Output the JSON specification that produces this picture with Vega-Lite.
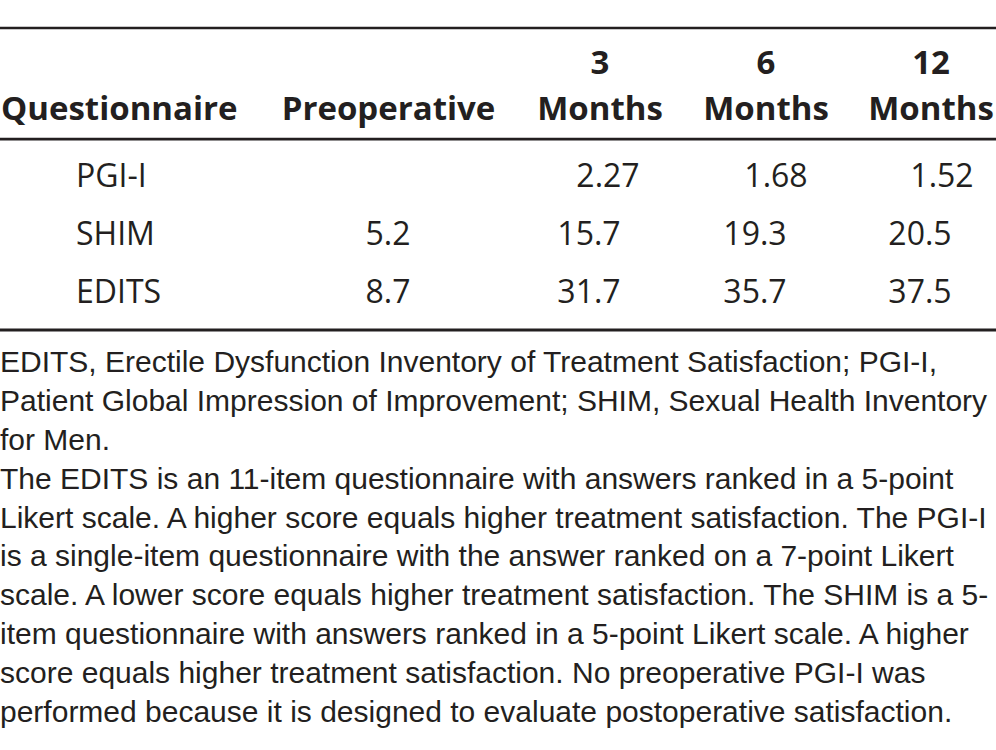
{
  "$schema": "https://vega.github.io/schema/vega-lite/v6.json",
  "width": 996,
  "height": 750,
  "padding": 0,
  "autosize": {"type": "none"},
  "background": "white",
  "config": {"view": {"stroke": null}, "text": {"color": "#231f20"}},
  "datasets": {
    "rules": [
      {"rule": "top", "idx": 0},
      {"rule": "header", "idx": 1},
      {"rule": "bottom", "idx": 2}
    ],
    "header": [
      {"month": 0, "line": 2, "text": "Preoperative"},
      {"month": 3, "line": 1, "text": "3"},
      {"month": 3, "line": 2, "text": "Months"},
      {"month": 6, "line": 1, "text": "6"},
      {"month": 6, "line": 2, "text": "Months"},
      {"month": 12, "line": 1, "text": "12"},
      {"month": 12, "line": 2, "text": "Months"}
    ],
    "firstHeader": [{"column": "Questionnaire", "line": 2, "text": "Questionnaire"}],
    "names": [
      {"column": "Questionnaire", "questionnaire": "PGI-I"},
      {"column": "Questionnaire", "questionnaire": "SHIM"},
      {"column": "Questionnaire", "questionnaire": "EDITS"}
    ],
    "table": [
      {"questionnaire": "PGI-I", "month": 3, "value": 2.27},
      {"questionnaire": "PGI-I", "month": 6, "value": 1.68},
      {"questionnaire": "PGI-I", "month": 12, "value": 1.52},
      {"questionnaire": "SHIM", "month": 0, "value": 5.2},
      {"questionnaire": "SHIM", "month": 3, "value": 15.7},
      {"questionnaire": "SHIM", "month": 6, "value": 19.3},
      {"questionnaire": "SHIM", "month": 12, "value": 20.5},
      {"questionnaire": "EDITS", "month": 0, "value": 8.7},
      {"questionnaire": "EDITS", "month": 3, "value": 31.7},
      {"questionnaire": "EDITS", "month": 6, "value": 35.7},
      {"questionnaire": "EDITS", "month": 12, "value": 37.5}
    ],
    "notes": [
      {"column": "note", "line": 0, "text": "EDITS, Erectile Dysfunction Inventory of Treatment Satisfaction; PGI-I,"},
      {"column": "note", "line": 1, "text": "Patient Global Impression of Improvement; SHIM, Sexual Health Inventory"},
      {"column": "note", "line": 2, "text": "for Men."},
      {"column": "note", "line": 3, "text": "The EDITS is an 11-item questionnaire with answers ranked in a 5-point"},
      {"column": "note", "line": 4, "text": "Likert scale. A higher score equals higher treatment satisfaction. The PGI-I"},
      {"column": "note", "line": 5, "text": "is a single-item questionnaire with the answer ranked on a 7-point Likert"},
      {"column": "note", "line": 6, "text": "scale. A lower score equals higher treatment satisfaction. The SHIM is a 5-"},
      {"column": "note", "line": 7, "text": "item questionnaire with answers ranked in a 5-point Likert scale. A higher"},
      {"column": "note", "line": 8, "text": "score equals higher treatment satisfaction. No preoperative PGI-I was"},
      {"column": "note", "line": 9, "text": "performed because it is designed to evaluate postoperative satisfaction."}
    ]
  },
  "layer": [
    {
      "data": {"name": "rules"},
      "mark": {"type": "rule", "color": "#231f20"},
      "encoding": {
        "y": {"field": "idx", "type": "quantitative", "axis": null,
              "scale": {"domain": [0, 1, 2], "range": [28, 139, 330], "nice": false, "zero": false}},
        "strokeWidth": {"field": "rule", "type": "nominal", "legend": null,
              "scale": {"domain": ["top", "header", "bottom"], "range": [2.5, 3, 4]}}
      }
    },
    {
      "data": {"name": "firstHeader"},
      "mark": {"type": "text", "font": "Open Sans", "fontWeight": "bold", "fontSize": 33, "align": "left", "baseline": "alphabetic"},
      "encoding": {
        "x": {"field": "column", "type": "nominal", "axis": null,
              "scale": {"type": "point", "domain": ["Questionnaire"], "range": [1, 1]}},
        "y": {"field": "line", "type": "quantitative", "axis": null,
              "scale": {"domain": [1, 2], "range": [74, 120], "nice": false, "zero": false}},
        "text": {"field": "text"}
      }
    },
    {
      "data": {"name": "header"},
      "mark": {"type": "text", "font": "Open Sans", "fontWeight": "bold", "fontSize": 33, "align": "center", "baseline": "alphabetic"},
      "encoding": {
        "x": {"field": "month", "type": "quantitative", "axis": null,
              "scale": {"domain": [0, 3, 6, 12], "range": [388.5, 600, 766, 931], "nice": false, "zero": false}},
        "y": {"field": "line", "type": "quantitative", "axis": null,
              "scale": {"domain": [1, 2], "range": [74, 120], "nice": false, "zero": false}},
        "text": {"field": "text"}
      }
    },
    {
      "data": {"name": "names"},
      "mark": {"type": "text", "font": "Open Sans", "fontSize": 32, "align": "left", "baseline": "alphabetic"},
      "encoding": {
        "x": {"field": "column", "type": "nominal", "axis": null,
              "scale": {"type": "point", "domain": ["Questionnaire"], "range": [76, 76]}},
        "y": {"field": "questionnaire", "type": "nominal", "axis": null,
              "scale": {"type": "point", "domain": ["PGI-I", "SHIM", "EDITS"], "range": [187, 303], "padding": 0}},
        "text": {"field": "questionnaire"}
      }
    },
    {
      "data": {"name": "table"},
      "transform": [{"filter": "datum.questionnaire !== 'PGI-I'"}],
      "mark": {"type": "text", "font": "Open Sans", "fontSize": 32, "align": "center", "baseline": "alphabetic"},
      "encoding": {
        "x": {"field": "month", "type": "quantitative", "axis": null,
              "scale": {"domain": [0, 3, 6, 12], "range": [388, 589, 755, 920], "nice": false, "zero": false}},
        "y": {"field": "questionnaire", "type": "nominal", "axis": null,
              "scale": {"type": "point", "domain": ["PGI-I", "SHIM", "EDITS"], "range": [187, 303], "padding": 0}},
        "text": {"field": "value", "type": "quantitative", "format": ".1f"}
      }
    },
    {
      "data": {"name": "table"},
      "transform": [{"filter": "datum.questionnaire === 'PGI-I'"}],
      "mark": {"type": "text", "font": "Open Sans", "fontSize": 32, "align": "center", "baseline": "alphabetic"},
      "encoding": {
        "x": {"field": "month", "type": "quantitative", "axis": null,
              "scale": {"domain": [0, 3, 6, 12], "range": [388, 608, 776, 942], "nice": false, "zero": false}},
        "y": {"field": "questionnaire", "type": "nominal", "axis": null,
              "scale": {"type": "point", "domain": ["PGI-I", "SHIM", "EDITS"], "range": [187, 303], "padding": 0}},
        "text": {"field": "value", "type": "quantitative", "format": ".2f"}
      }
    },
    {
      "data": {"name": "notes"},
      "mark": {"type": "text", "font": "Liberation Sans", "fontSize": 30, "align": "left", "baseline": "alphabetic"},
      "encoding": {
        "x": {"field": "column", "type": "nominal", "axis": null,
              "scale": {"type": "point", "domain": ["note"], "range": [0, 0]}},
        "y": {"field": "line", "type": "quantitative", "axis": null,
              "scale": {"domain": [0, 9], "range": [372, 722], "nice": false, "zero": false}},
        "text": {"field": "text"}
      }
    }
  ],
  "resolve": {"scale": {"x": "independent", "y": "independent", "strokeWidth": "independent"}}
}
